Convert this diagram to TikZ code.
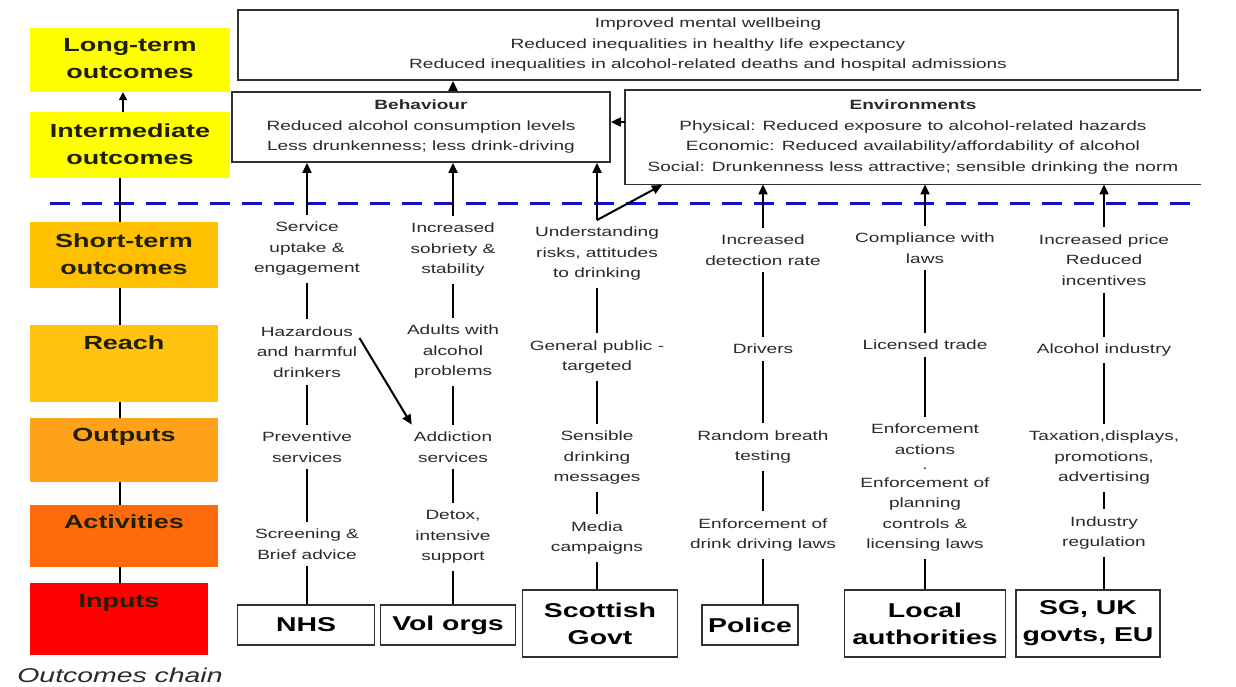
\documentclass[tikz,border=0pt]{standalone}
\usepackage{fontspec}
\setmainfont{Liberation Sans}[FakeStretch=1.42]
\usetikzlibrary{arrows.meta}

\definecolor{ltyellow}{HTML}{FFFF00}
\definecolor{stgold}{HTML}{FFC000}
\definecolor{reachgold}{HTML}{FFC20E}
\definecolor{outorange}{HTML}{FFA11A}
\definecolor{actorange}{HTML}{FF6A0A}
\definecolor{inred}{HTML}{FF0000}
\definecolor{labelink}{HTML}{202000}
\definecolor{ink}{HTML}{2A2A2A}
\definecolor{edge}{HTML}{303030}
\definecolor{divider}{HTML}{1010CC}

\tikzset{
  stage/.style={inner sep=0pt, draw=none},
  stagetext/.style={font=\fontsize{19}{27}\selectfont\bfseries, text=labelink, align=center, inner sep=0pt},
  note/.style={font=\fontsize{13.4}{20.5}\selectfont, text=ink, align=center, inner xsep=2pt, inner ysep=7pt},
  agency/.style={draw=edge, line width=1.8pt, font=\fontsize{20}{27}\selectfont\bfseries, text=black, align=center, inner sep=0pt},
  outbox/.style={line width=1.8pt, inner sep=0pt, align=center, font=\fontsize{13.4}{20.5}\selectfont, text=ink},
  link/.style={line width=2.6pt, draw=black},
  uparrow/.style={line width=2pt, draw=black, -{Triangle[length=10pt,width=9pt]}},
}

\begin{document}
\begin{tikzpicture}[x=1pt, y=-1pt]
\fill[white] (0,0) rectangle (1236,686);
\useasboundingbox (0,0) rectangle (1236,686);

% ---- outcomes chain (left column)
\node[stage, fill=ltyellow, minimum width=200pt, minimum height=64pt] (longT) at (130,60) {};
\node[stage, fill=ltyellow, minimum width=200pt, minimum height=66pt] (interT) at (130,145) {};
\node[stage, fill=stgold, minimum width=188pt, minimum height=66pt] (shortT) at (124,255) {};
\node[stage, fill=reachgold, minimum width=188pt, minimum height=77pt] (reachT) at (124,363.5) {};
\node[stage, fill=outorange, minimum width=188pt, minimum height=64pt] (outT) at (124,450) {};
\node[stage, fill=actorange, minimum width=188pt, minimum height=62pt] (actT) at (124,536) {};
\node[stage, fill=inred, minimum width=178pt, minimum height=72pt] (inT) at (119,619) {};

\node[stagetext] (longL) at (130,58.5) {Long-term\\outcomes};
\node[stagetext] (interL) at (130,144) {Intermediate\\outcomes};
\node[stagetext] (shortL) at (124,254) {Short-term\\outcomes};
\node[stagetext] (reachL) at (124,343) {Reach};
\node[stagetext] (outL) at (124,437) {Outputs};
\node[stagetext] (actL) at (124,522) {Activities};
\node[stagetext] (inL) at (119,603) {Inputs};

\node[font=\fontsize{20}{24}\selectfont\itshape, text=ink, inner sep=0pt] (chain) at (120,675) {Outcomes chain};

% ---- divider between intermediate and short-term outcomes
\coordinate (dashL) at (50,203);
\coordinate (dashR) at (1200,203);
\draw[divider, line width=3pt, dash pattern=on 20pt off 12pt] (dashL) -- (dashR);

% spine of the chain
\coordinate (spine) at (120,0);
\draw[uparrow, line width=1.8pt, -{Triangle[length=8pt,width=8pt]}] (interT.north -| 123,0) -- (longT.south -| 123,0);
\draw[link] (interT.south -| spine) -- (shortT.north -| spine);
\draw[link] (shortT.south -| spine) -- (reachT.north -| spine);
\draw[link] (reachT.south -| spine) -- (outT.north -| spine);
\draw[link] (outT.south -| spine) -- (actT.north -| spine);
\draw[link] (actT.south -| spine) -- (inT.north -| spine);

% ---- long-term and intermediate outcome boxes
\node[outbox, draw=edge, minimum width=940pt, minimum height=70pt] (outc) at (708,45)
  {Improved mental wellbeing\\Reduced inequalities in healthy life expectancy\\Reduced inequalities in alcohol-related deaths and hospital admissions};
\node[outbox, draw=edge, minimum width=378pt, minimum height=70pt] (beh) at (421,127)
  {\textbf{Behaviour}\\Reduced alcohol consumption levels\\Less drunkenness; less drink-driving};
\node[outbox, minimum width=574pt, minimum height=93pt] (env) at (913,137)
  {\textbf{Environments}\\Physical: Reduced exposure to alcohol-related hazards\\Economic: Reduced availability/affordability of alcohol\\Social: Drunkenness less attractive; sensible drinking the norm};
\draw[edge, line width=1.8pt] (env.north east) -- (env.north west) -- (env.south west) -- (env.south east);

% ---- NHS column
\node[note] (n1) at (307,249) {Service\\uptake \&\\engagement};
\node[note] (n2) at (307,352) {Hazardous\\and harmful\\drinkers};
\node[note] (n3) at (307,447) {Preventive\\services};
\node[note] (n4) at (307,544) {Screening \&\\Brief advice};
\node[agency, minimum width=137pt, minimum height=40pt] (nhs) at (306,625) {NHS};

% ---- voluntary organisations column
\node[note] (v1) at (453,250) {Increased\\sobriety \&\\stability};
\node[note] (v2) at (453,352) {Adults with\\alcohol\\problems};
\node[note] (v3) at (453,447) {Addiction\\services};
\node[note] (v4) at (453,537) {Detox,\\intensive\\support};
\node[agency, minimum width=135pt, minimum height=40pt] (vol) at (448,625) {Vol orgs};

% ---- Scottish Government column
\node[note] (s1) at (597,254) {Understanding\\risks, attitudes\\to drinking};
\node[note] (s2) at (597,357) {General public -\\targeted};
\node[note] (s3) at (597,458) {Sensible\\drinking\\messages};
\node[note] (s4) at (597,538) {Media\\campaigns};
\node[agency, minimum width=155pt, minimum height=67pt] (sgov) at (600,623.5) {Scottish\\Govt};

% ---- Police column
\node[note] (p1) at (763,250) {Increased\\detection rate};
\node[note] (p2) at (763,349) {Drivers};
\node[note] (p3) at (763,447) {Random breath\\testing};
\node[note] (p4) at (763,535) {Enforcement of\\drink driving laws};
\node[agency, minimum width=96pt, minimum height=40pt] (pol) at (750,625) {Police};

% ---- Local authorities column
\node[note] (l1) at (925,248) {Compliance with\\laws};
\node[note] (l2) at (925,345) {Licensed trade};
\node[note] (l3) at (925,488) {Enforcement\\actions\\[-5pt].\\[-3pt]Enforcement of\\planning\\controls \&\\licensing laws};
\node[agency, minimum width=161pt, minimum height=67pt] (loc) at (925,623.5) {Local\\authorities};

% ---- SG, UK governments, EU column
\node[note] (g1) at (1104,260) {Increased price\\Reduced\\incentives};
\node[note] (g2) at (1104,350) {Alcohol industry};
\node[note] (g3) at (1104,458) {Taxation,displays,\\promotions,\\advertising};
\node[note] (g4) at (1104,533) {Industry\\regulation};
\node[agency, minimum width=144pt, minimum height=67pt] (gov) at (1088,623.5) {SG, UK\\govts, EU};

% ---- column chains
\foreach \a/\b in {n1/n2,n2/n3,n3/n4,v1/v2,v2/v3,v3/v4,s1/s2,s2/s3,s3/s4,p1/p2,p2/p3,p3/p4,l1/l2,l2/l3,g1/g2,g2/g3,g3/g4}
  \draw[link] (\a.south) -- (\b.north);
\draw[link] (n4.south) -- (n4.south |- nhs.north);
\draw[link] (v4.south) -- (v4.south |- vol.north);
\draw[link] (s4.south) -- (s4.south |- sgov.north);
\draw[link] (p4.south) -- (p4.south |- pol.north);
\draw[link] (l3.south) -- (l3.south |- loc.north);
\draw[link] (g4.south) -- (g4.south |- gov.north);

% hazardous drinkers also reached by addiction services
\draw[uparrow] (n2.15) -- (v3.north west);

% ---- short-term outcomes feeding intermediate outcomes
\draw[uparrow] (n1.north) -- (n1.north |- beh.south);
\draw[uparrow] (v1.north) -- (v1.north |- beh.south);
\draw[uparrow] (s1.north) -- (s1.north |- beh.south);
\coordinate (envin) at (662,185);
\draw[uparrow] (s1.north) -- (envin);
\draw[uparrow] (p1.north) -- (p1.north |- env.south);
\draw[uparrow] (l1.north) -- (l1.north |- env.south);
\draw[uparrow] (g1.north) -- (g1.north |- env.south);

% ---- intermediate to long-term outcomes
\draw[uparrow] (env.west |- 0,122) -- (beh.east |- 0,122);
\draw[uparrow] (v1.north |- beh.north) -- (v1.north |- outc.south);
\end{tikzpicture}
\end{document}
